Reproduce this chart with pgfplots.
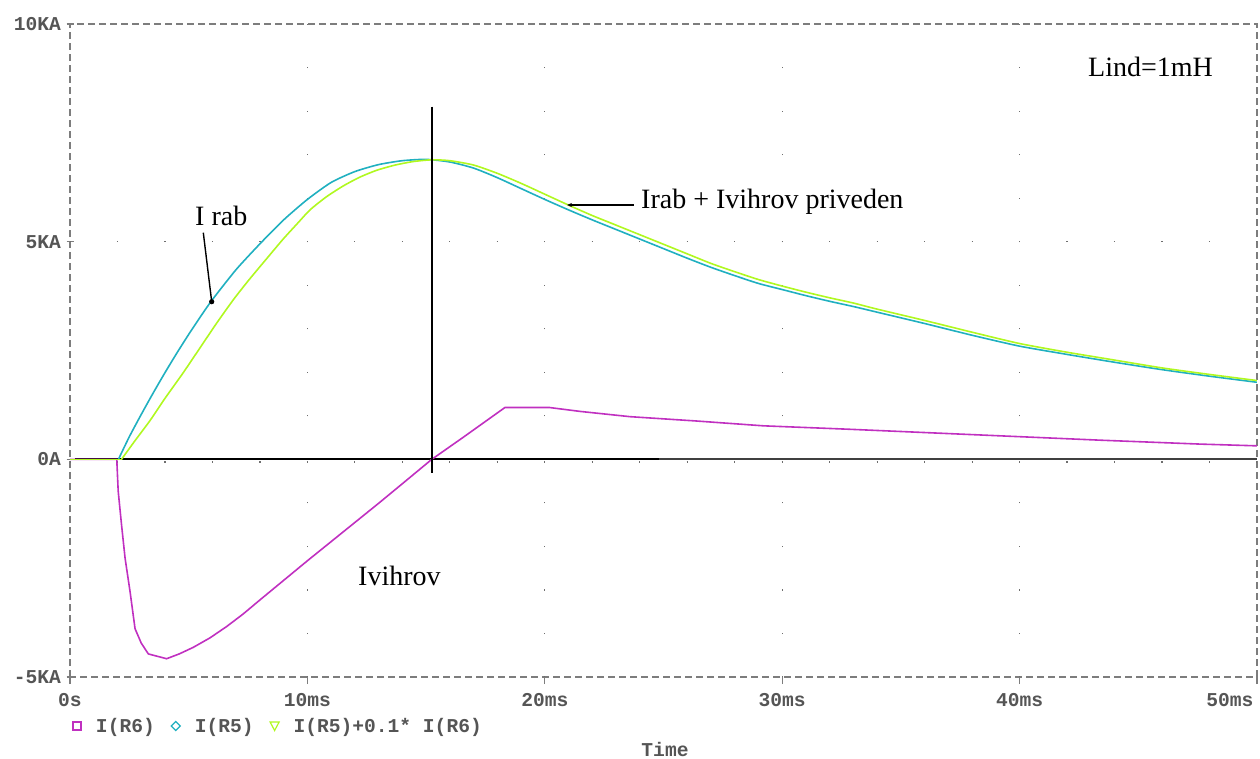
\documentclass[border=0pt]{standalone}
\usepackage{fontspec}
\setmainfont{Liberation Serif}
\newfontfamily\psfont{Liberation Mono}
\usepackage{pgfplots}
\pgfplotsset{compat=1.18}
\usetikzlibrary{arrows.meta}
\definecolor{mag}{RGB}{192,48,192}
\definecolor{cy}{RGB}{32,176,192}
\definecolor{yg}{RGB}{176,248,32}
\definecolor{psgray}{RGB}{85,85,85}
\definecolor{framec}{RGB}{125,125,125}
\definecolor{gridc}{RGB}{110,110,110}
\begin{document}
\begin{tikzpicture}[x=1pt,y=1pt]
\useasboundingbox (0,0) rectangle (1260,758);
\begin{axis}[
  at={(70pt,81pt)}, anchor=south west,
  scale only axis, width=1187pt, height=653pt,
  xmin=0, xmax=50, ymin=-5, ymax=10,
  axis line style={framec, line width=1.3pt, dash pattern=on 7pt off 4pt},
  xtick={0,10,20,30,40}, xticklabels={0s,10ms,20ms,30ms,40ms},
  extra x ticks={50}, extra x tick labels={50ms},
  extra x tick style={xticklabel style={anchor=north east}},
  ytick={-5,0,5,10}, yticklabels={-5KA,0A,5KA,10KA},
  tick pos=left,
  xtick align=outside, ytick align=center,
  major tick length=7pt,
  tick style={framec, line width=1.3pt, solid},
  ticklabel style={font=\psfont\bfseries\fontsize{19.6}{20}\selectfont, text=psgray},
  xticklabel style={yshift=-6pt},
  yticklabel style={xshift=-2pt},
  legend style={at={(axis description cs:0,0)}, anchor=west, yshift=-49pt,
    draw=none, fill=none, inner sep=0pt, outer sep=0pt,
    font=\psfont\bfseries\fontsize{19.6}{20}\selectfont, text=psgray,
    nodes={inner sep=0pt, outer sep=0pt},
    /tikz/every even column/.append style={column sep=14pt}},
  legend columns=3, legend cell align=left,
]
% dotted grid
\addplot[forget plot, gridc, line width=1.2pt, dash pattern=on 1.2pt off 42.33pt, dash phase=0.6pt] coordinates {(10,-5) (10,10)};
\addplot[forget plot, gridc, line width=1.2pt, dash pattern=on 1.2pt off 42.33pt, dash phase=0.6pt] coordinates {(20,-5) (20,10)};
\addplot[forget plot, gridc, line width=1.2pt, dash pattern=on 1.2pt off 42.33pt, dash phase=0.6pt] coordinates {(30,-5) (30,10)};
\addplot[forget plot, gridc, line width=1.2pt, dash pattern=on 1.2pt off 42.33pt, dash phase=0.6pt] coordinates {(40,-5) (40,10)};
\addplot[forget plot, gridc, line width=1.2pt, dash pattern=on 1.2pt off 46.28pt, dash phase=0.6pt] coordinates {(0,5) (50,5)};
\addplot[forget plot, gridc, line width=1.2pt, dash pattern=on 1.2pt off 46.28pt, dash phase=0.6pt] coordinates {(0,-0.06) (50,-0.06)};
% zero line
\draw[black, line width=1.8pt] (axis cs:0.2,0) -- (axis cs:24.8,0);
\draw[black!75, line width=1.8pt] (axis cs:24.8,0) -- (axis cs:50,0);
% I(R6)
\addplot[mag, line width=1.6pt, legend image code/.code={\path[draw=none,fill=none] (0pt,-7pt) rectangle (26pt,7pt); \draw[mag, line width=1.2pt] (3pt,-4pt) rectangle (11pt,4pt);}] coordinates {
(0,0) (1.97,0) (2.03,-0.73) (2.17,-1.50) (2.32,-2.27) (2.53,-3.04) (2.74,-3.89) (3.0,-4.22) (3.3,-4.47)
(4.07,-4.58) (4.6,-4.47) (5.19,-4.32) (5.9,-4.10) (6.6,-3.84) (7.3,-3.55) (8.0,-3.23) (9.0,-2.78)
(10,-2.33) (11,-1.89) (12,-1.45) (13,-1.01) (14,-0.56) (15.24,0) (16.6,0.52) (18.32,1.19) (20.2,1.19)
(21.5,1.10) (23.59,0.98) (26.4,0.88) (29.2,0.77) (32.86,0.69) (39.17,0.54) (43.39,0.44) (47.6,0.35) (50,0.31)};
\addlegendentry{I(R6)}
% I(R5)
\addplot[forget plot, cy, line width=1.6pt] coordinates {(0,0) (2.04,0)};
\addplot[cy, line width=1.6pt, smooth, tension=0.4, legend image code/.code={\path[draw=none,fill=none] (0pt,-7pt) rectangle (26pt,7pt); \draw[cy, line width=1.2pt] (7pt,-4.5pt) -- (11.5pt,0pt) -- (7pt,4.5pt) -- (2.5pt,0pt) -- cycle;}] coordinates {
(2.04,0) (2.5,0.52) (3.0,1.03) (3.5,1.52) (4.0,1.99) (4.5,2.44) (5.0,2.87) (5.5,3.28) (6.0,3.67)
(7.0,4.36) (8.0,4.95) (9.0,5.50) (10.0,5.97) (11.0,6.36) (12.0,6.61) (13.0,6.77) (14.0,6.86) (15.0,6.89)
(16.0,6.83) (17.0,6.69) (18.0,6.47) (19.0,6.22) (20.0,5.97) (21.0,5.73) (22.0,5.50) (23.0,5.28) (24.0,5.06)
(25.0,4.84) (26.0,4.62) (27.0,4.41) (28.0,4.22) (29.0,4.04) (30.0,3.90) (31.0,3.76) (32.0,3.63) (33.0,3.51)
(34.0,3.38) (36.0,3.12) (38.0,2.85) (40.0,2.60) (42.0,2.41) (44.0,2.23) (46.0,2.06) (48.0,1.91) (50.0,1.77)};
\addlegendentry{I(R5)}
% I(R5)+0.1*I(R6)
\addplot[forget plot, yg, line width=1.6pt] coordinates {(0,0) (2.17,0)};
\addplot[yg, line width=1.6pt, smooth, tension=0.4, legend image code/.code={\path[draw=none,fill=none] (0pt,-7pt) rectangle (26pt,7pt); \draw[yg, line width=1.2pt] (2.5pt,4pt) -- (11.5pt,4pt) -- (7pt,-4.5pt) -- cycle;}] coordinates {
(2.17,0) (2.7,0.40) (3.37,0.89) (4.0,1.40) (4.77,1.99) (5.5,2.58) (6.18,3.13) (6.9,3.68) (7.58,4.15)
(8.3,4.62) (8.98,5.06) (9.6,5.43) (10.11,5.73) (10.8,6.03) (11.51,6.28) (12.2,6.48) (12.92,6.64) (13.7,6.76)
(14.46,6.84) (15.24,6.88) (16.0,6.86) (17.0,6.76) (18.0,6.57) (19.0,6.34) (20.0,6.09) (21.0,5.84) (22.0,5.60)
(23.0,5.38) (24.0,5.16) (25.0,4.94) (26.0,4.72) (27.0,4.50) (28.0,4.31) (29.0,4.13) (30.0,3.98) (31.0,3.84)
(32.0,3.71) (33.0,3.59) (34.0,3.45) (36.0,3.19) (38.0,2.92) (40.0,2.66) (42.0,2.46) (44.0,2.28) (46.0,2.10)
(48.0,1.95) (50.0,1.81)};
\addlegendentry{I(R5)+0.1* I(R6)}
% cursor line
\draw[black, line width=1.6pt] (axis cs:15.25,8.1) -- (axis cs:15.25,-0.32);
\end{axis}
% annotations
\node[anchor=base west, inner sep=0pt, font=\fontsize{28}{30}\selectfont] at (641,549) {Irab + Ivihrov priveden};
\node[anchor=base west, inner sep=0pt, font=\fontsize{28}{30}\selectfont] at (195,532) {I rab};
\node[anchor=base west, inner sep=0pt, font=\fontsize{28}{30}\selectfont] at (358,173) {Ivihrov};
\node[anchor=base west, inner sep=0pt, font=\fontsize{28}{30}\selectfont] at (1088,681) {Lind=1mH};
\draw[black, line width=1.4pt] (203.3,525.3) -- (211.7,456.3);
\fill[black] (211.7,456.3) circle (2.6);
\draw[black, line width=1.2pt, {Stealth[length=5pt,width=4pt]}-] (567,553) -- (634,553);
\node[anchor=base, inner sep=0pt, font=\psfont\bfseries\fontsize{19.6}{20}\selectfont, text=psgray] at (665,2) {Time};
\end{tikzpicture}
\end{document}
